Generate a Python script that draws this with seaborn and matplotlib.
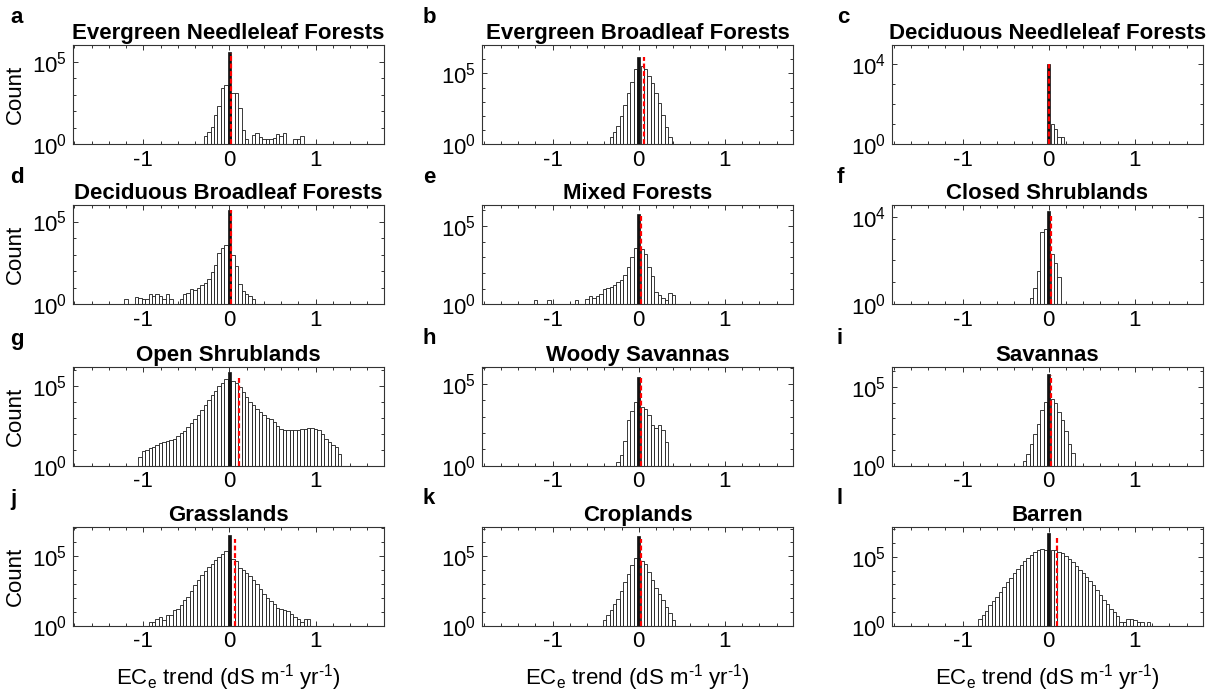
import numpy as np
import pandas as pd
import matplotlib
matplotlib.use("Agg")
import matplotlib.pyplot as plt
import seaborn as sns
from matplotlib.ticker import FixedLocator, NullFormatter

# ---------------- data ----------------
TITLES = ["Evergreen Needleleaf Forests", "Evergreen Broadleaf Forests", "Deciduous Needleleaf Forests",
          "Deciduous Broadleaf Forests", "Mixed Forests", "Closed Shrublands",
          "Open Shrublands", "Woody Savannas", "Savannas",
          "Grasslands", "Croplands", "Barren"]
LETTERS = ["a", "b", "c", "d", "e", "f", "g", "h", "i", "j", "k", "l"]

BIN_WIDTH = 0.04
# centre of the first bin of each panel
FIRST_CENTER = [-0.28, -0.32, 0.0, -1.2, -1.2, -0.2, -1.04, -0.24, -0.28, -0.92, -0.4, -0.8]

# log10(count) per bin (0 = empty bin)
enf_log10 = [0.5, 0.75, 1.05, 1.75, 2.3, 3.4, 3.6, 5.55, 3.1, 3.1, 2.2, 0.85, 0.35, 0, 0.55, 0.7,
             0.45, 0.3, 0.3, 0.3, 0.4, 0.6, 0.5, 0.7, 0, 0, 0.3, 0.3, 0.5]
ebf_log10 = [0.5, 0.9, 1.3, 2.0, 2.8, 3.6, 4.4, 5.3, 6.18, 5.5, 5.3, 4.8, 4.3, 3.6, 2.9, 2.1, 1.2, 0.5]
dnf_log10 = [4.0, 1.0, 0.78, 0.37, 0.37]
dbf_log10 = [0.3, 0, 0, 0.45, 0.4, 0.3, 0.3, 0.65, 0.5, 0.6, 0.5, 0.3, 0.6, 0.3, 0, 0, 0.3, 0.6,
             0.7, 0.95, 0.85, 1.0, 1.15, 1.3, 1.55, 1.95, 2.4, 3.1, 3.4, 3.6, 5.7, 3.0, 2.3, 1.2,
             0.8, 0.65, 0.5, 0.3]
mf_log10 = [0.3, 0, 0, 0, 0.3, 0, 0, 0, 0, 0, 0, 0, 0.3, 0, 0, 0.35, 0.5, 0.4, 0.55, 0.65, 1.0,
            1.05, 1.1, 1.25, 1.4, 1.55, 1.85, 2.4, 3.0, 3.6, 5.77, 3.5, 3.2, 2.4, 1.8, 0.8, 0.6,
            0.4, 0.3, 0.7, 0.6]
cs_log10 = [0.3, 0.75, 1.5, 3.3, 3.45, 4.26, 2.3, 1.9, 1.25]
os_log10 = [0.55, 0.9, 1.0, 1.1, 1.2, 1.3, 1.4, 1.5, 1.55, 1.6, 1.7, 1.85, 2.05, 2.2, 2.4, 2.65,
            2.9, 3.2, 3.5, 3.8, 4.1, 4.4, 4.7, 5.0, 5.2, 5.45, 5.88, 5.3, 5.2, 4.9, 4.6, 4.3, 4.0,
            3.8, 3.55, 3.35, 3.15, 3.0, 2.9, 2.75, 2.5, 2.3, 2.25, 2.25, 2.25, 2.25, 2.25, 2.3,
            2.3, 2.35, 2.35, 2.3, 2.25, 2.0, 1.7, 1.5, 1.3, 1.2, 0.75]
ws_log10 = [0.25, 0.68, 1.54, 2.78, 3.35, 3.9, 5.45, 3.6, 3.5, 3.1, 2.47, 2.3, 2.47, 2.16, 1.44]
sav_log10 = [0.28, 0.75, 1.38, 2.0, 2.66, 3.5, 4.04, 5.8, 4.25, 4.0, 3.4, 2.87, 2.23, 1.38, 0.8]
gra_log10 = [0.3, 0.3, 0.5, 0.6, 0.45, 0.75, 0.8, 1.1, 1.2, 1.5, 1.85, 2.05, 2.5, 2.9, 3.25, 3.6,
             3.95, 4.2, 4.45, 4.7, 4.95, 5.15, 5.35, 6.48, 4.75, 4.6, 4.1, 4.0, 3.8, 3.55, 3.25,
             3.0, 2.65, 2.3, 2.0, 1.8, 1.55, 1.3, 1.2, 1.15, 1.05, 0.85, 0.65, 0.5, 0.3, 0.5, 0.5]
cro_log10 = [0.4, 0.8, 1.15, 1.55, 1.95, 2.5, 3.15, 3.75, 4.4, 4.85, 6.5, 4.7, 4.45, 3.9, 3.3, 2.7,
             2.3, 1.85, 1.35, 0.9, 0.4]
bar_log10 = [0.5, 0.8, 1.1, 1.5, 1.8, 2.1, 2.45, 2.8, 3.15, 3.5, 3.8, 4.1, 4.4, 4.7, 4.95, 5.15,
             5.35, 5.5, 5.58, 5.5, 6.74, 5.53, 5.48, 5.38, 5.25, 5.05, 4.85, 4.6, 4.35, 4.05, 3.8,
             3.55, 3.25, 2.95, 2.6, 2.25, 1.9, 1.55, 1.25, 1.0, 0.7, 0.3, 0.3, 0.5, 0.5, 0.4, 0.3,
             0.3, 0, 0.3]
PANEL_LOG10 = [enf_log10, ebf_log10, dnf_log10, dbf_log10, mf_log10, cs_log10,
               os_log10, ws_log10, sav_log10, gra_log10, cro_log10, bar_log10]

MEAN_TREND = [0.02, 0.057, 0.005, 0.02, 0.02, 0.027, 0.11, 0.027, 0.023, 0.064, 0.027, 0.10]
MEAN_LINE_TOP_LOG10 = [5.5, 6.13, 4.0, 5.7, 5.7, 4.07, 5.52, 5.41, 5.74, 6.24, 6.27, 6.33]
YMAX_LOG10 = [6.0, 7.0, 4.95, 6.0, 6.34, 4.53, 6.2, 6.07, 6.28, 7.1, 7.15, 7.2]
YLABEL_EXP = [5, 5, 4, 5, 5, 4, 5, 5, 5, 5, 5, 5]
XTICKS = [-1, 0, 1]
XTICKLABELS = ["-1", "0", "1"]

# ---------------- style ----------------
sns.set_style("ticks")
plt.rcParams["font.family"] = ["Liberation Sans", "DejaVu Sans"]
plt.rcParams["mathtext.fontset"] = "custom"
plt.rcParams["mathtext.rm"] = "Liberation Sans"
plt.rcParams["mathtext.it"] = "Liberation Sans:italic"
plt.rcParams["mathtext.bf"] = "Liberation Sans:bold"
plt.rcParams["axes.unicode_minus"] = False
for key in ["text.color", "axes.labelcolor", "xtick.color", "ytick.color"]:
    plt.rcParams[key] = "black"

FS = 16
W, H = 1217, 697
fig = plt.figure(figsize=(W / 100, H / 100), dpi=100)

col_left = [72.7, 482.0, 892.0]
row_top = [45.0, 205.0, 366.5, 526.5]
ax_w, ax_h = 311.0, 99.3
letter_x = [10, 423, 837]

for i in range(12):
    r, c = divmod(i, 3)
    ax = fig.add_axes([col_left[c] / W, 1 - (row_top[r] + ax_h) / H, ax_w / W, ax_h / H])

    logs = np.array(PANEL_LOG10[i], dtype=float)
    centers = FIRST_CENTER[i] + BIN_WIDTH * np.arange(len(logs))
    counts = np.where(logs > 0, 10 ** logs, 0.0)
    edges = np.append(centers - BIN_WIDTH / 2, centers[-1] + BIN_WIDTH / 2)
    is_zero = np.isclose(centers, 0.0)

    df = pd.DataFrame({"trend": centers[~is_zero], "count": counts[~is_zero]})
    sns.histplot(data=df, x="trend", weights="count", bins=[float(e) for e in edges], ax=ax,
                 color="white", edgecolor="#1a1a1a", linewidth=0.6, alpha=1)
    dz = pd.DataFrame({"trend": centers[is_zero], "count": counts[is_zero]})
    sns.histplot(data=dz, x="trend", weights="count", bins=[-BIN_WIDTH / 2.6, BIN_WIDTH / 2.6], ax=ax,
                 color="#111111", edgecolor="#111111", linewidth=0.5, alpha=1)

    ax.set_yscale("log")
    ax.plot([MEAN_TREND[i], MEAN_TREND[i]], [1, 10 ** MEAN_LINE_TOP_LOG10[i]],
            color="red", lw=1.6, ls=(0, (2.2, 1.2)))

    ax.set_xlim(-1.82, 1.79)
    ax.set_ylim(1, 10 ** YMAX_LOG10[i])
    ax.set_xticks(XTICKS)
    ax.set_xticklabels(XTICKLABELS)
    ax.xaxis.set_minor_locator(FixedLocator(np.round(np.arange(-1.8, 1.81, 0.2), 2)))
    decades = [10.0 ** k for k in range(0, int(np.floor(YMAX_LOG10[i])) + 1)]
    ax.yaxis.set_major_locator(FixedLocator([1, 10 ** YLABEL_EXP[i]]))
    ax.yaxis.set_minor_locator(FixedLocator(decades))
    ax.yaxis.set_minor_formatter(NullFormatter())
    ax.tick_params(which="both", direction="in", top=True, right=True, labelsize=FS,
                   color="#333333", width=0.7)
    ax.tick_params(which="major", length=3.5, pad=4)
    ax.tick_params(which="minor", length=2.5)
    for s in ax.spines.values():
        s.set_linewidth(0.8)
        s.set_color("#333333")

    ax.set_title(TITLES[i], fontsize=FS, fontweight="bold", pad=4)
    ax.set_xlabel("")
    ax.set_ylabel("")
    if c == 0:
        ax.set_ylabel("Count", fontsize=FS)
        ax.yaxis.set_label_coords(-0.15, 0.5)
    if r == 3:
        ax.set_xlabel("EC$_\\mathregular{e}$ trend (dS m$^\\mathregular{\u20101}$ yr$^\\mathregular{\u20101}$)",
                      fontsize=FS, labelpad=7)

    fig.text(letter_x[c] / W, 1 - (row_top[r] - 22) / H, LETTERS[i], fontsize=FS,
             fontweight="bold", va="baseline", ha="left")

fig.savefig("out.png", dpi=100)
